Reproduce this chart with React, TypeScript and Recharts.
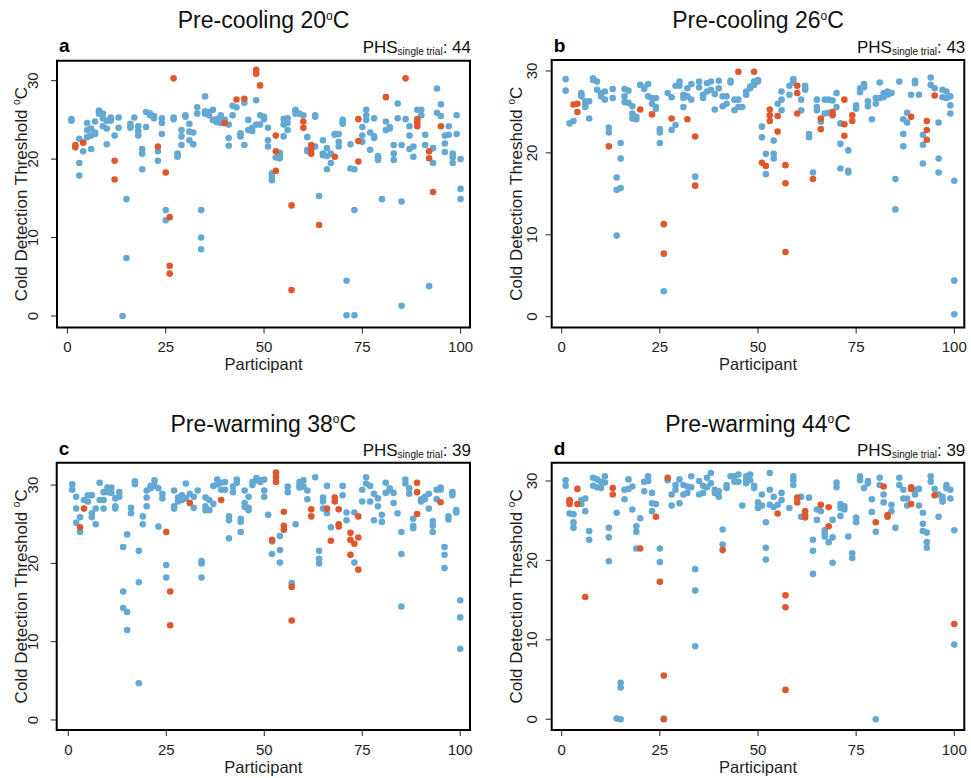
import React from 'react';
import { ScatterChart, Scatter, XAxis, YAxis, ReferenceArea } from 'recharts';

type Pt = [number, number];

const xTicks = [0, 25, 50, 75, 100];
const yTicks = [0, 10, 20, 30];
const panelLetters = ['a', 'b', 'c', 'd'];
const panelTitles = ['Pre-cooling 20', 'Pre-cooling 26', 'Pre-warming 38', 'Pre-warming 44'];
const phsCounts = [44, 43, 39, 39];

// Panel a: Pre-cooling 20°C  [participant, threshold]
const coolA_blue: Pt[] = [
  [1,25.1],[1,24.9],[3,22.6],[3,19.5],[3,17.9],[4,21.0],[5,22.8],[5,23.7],[5,24.6],[6,23.0],[6,21.3],[6,23.9],
  [7,24.8],[7,23.4],[7,23.2],[8,26.2],[8,25.8],[9,25.8],[9,25.2],[9,24.2],[10,21.9],[10,24.9],[10,23.9],
  [11,25.3],[11,25.1],[11,24.9],[12,23.0],[13,25.3],[13,24.0],[14,0.0],[15,14.9],[15,7.4],[16,24.5],[16,24.2],[16,24.0],
  [17,25.3],[18,24.2],[18,23.6],[18,23.0],[19,21.3],[19,20.7],[19,18.7],[20,24.1],[20,26.0],[21,25.8],[21,25.6],
  [22,25.5],[22,25.2],[23,21.0],[23,19.8],[24,25.2],[24,24.6],[24,23.2],[25,13.5],[25,12.2],[27,25.3],[27,25.1],
  [28,20.7],[28,20.5],[28,20.3],[29,23.7],[29,22.9],[29,21.8],[30,25.6],[30,25.4],[31,24.5],[31,23.5],[31,22.4],
  [32,23.4],[32,21.9],[33,26.6],[33,25.8],[34,13.5],[34,10.0],[34,8.5],[35,28.0],[35,26.1],[35,25.8],
  [36,26.0],[36,25.8],[36,25.6],[37,25.0],[37,26.3],[38,25.1],[38,24.7],[39,25.6],[39,25.0],[39,24.6],[40,25.0],
  [41,24.4],[41,22.7],[41,21.7],[42,25.6],[42,26.8],[43,26.6],[44,23.3],[44,23.1],[44,22.9],[45,27.2],[45,21.8],
  [46,25.0],[46,23.7],[47,24.0],[47,23.6],[48,27.5],[48,24.4],[49,25.6],[49,24.4],[50,25.4],[50,25.1],
  [51,24.0],[51,22.4],[51,21.6],[52,18.2],[52,17.8],[52,17.3],[53,20.2],[54,20.8],[54,20.4],[54,20.1],
  [55,22.9],[55,24.4],[55,25.1],[56,25.2],[56,24.6],[56,23.7],[58,26.3],[58,26.1],[58,25.8],[59,25.8],[60,25.6],
  [61,22.8],[61,21.2],[61,21.0],[63,25.6],[63,25.4],[63,21.6],[64,15.3],[65,22.4],[65,20.7],[65,20.5],
  [66,21.4],[66,20.4],[66,18.7],[67,20.7],[67,19.5],[68,23.2],[68,23.1],[69,23.2],[69,22.2],[69,21.6],
  [70,25.0],[70,24.7],[70,24.5],[71,4.5],[71,0.1],[72,21.9],[72,18.8],[73,18.7],[73,13.5],[73,0.1],
  [75,24.1],[75,23.0],[75,22.2],[76,26.3],[76,25.6],[76,25.0],[77,23.4],[77,21.2],[78,25.2],[78,22.9],[78,22.7],
  [79,20.4],[79,20.2],[79,19.9],[80,14.9],[81,24.8],[81,23.7],[82,24.1],[82,23.9],[83,21.8],[83,20.7],[83,19.9],
  [84,27.1],[84,25.2],[85,14.6],[85,1.3],[85,21.8],[86,25.1],[87,24.2],[87,23.0],[87,21.3],[88,21.6],[88,20.3],
  [89,26.3],[90,26.3],[90,25.6],[91,23.1],[91,21.8],[92,3.8],[93,19.5],[93,21.4],[94,29.0],[94,25.9],
  [95,27.0],[95,25.5],[96,23.0],[96,22.0],[96,20.9],[97,24.2],[97,23.1],[98,20.7],[98,20.2],[98,19.5],
  [99,25.6],[99,23.2],[100,20.0],[100,16.2],[100,14.9],
];
const coolA_red: Pt[] = [
  [2,21.8],[2,21.5],[4,22.1],[12,19.8],[12,17.4],[23,21.6],[25,18.3],[26,12.6],[26,6.4],[26,5.4],[27,30.3],
  [40,24.6],[43,27.6],[45,27.7],[48,31.4],[48,30.9],[49,29.4],[53,23.0],[53,21.0],[53,18.5],[57,14.1],[57,3.3],
  [60,24.8],[60,24.0],[62,21.8],[62,21.2],[62,20.7],[64,11.6],[68,20.3],[74,25.1],[74,22.3],[74,19.7],
  [81,27.9],[86,30.3],[89,25.1],[89,24.7],[89,24.2],[92,21.0],[92,20.1],[93,15.8],[95,24.2],
];

// Panel b: Pre-cooling 26°C
const coolB_blue: Pt[] = [
  [1,29.0],[1,27.6],[2,23.6],[3,23.9],[5,27.3],[5,27.1],[5,26.9],[6,26.3],[6,25.8],[6,25.6],[7,26.3],[7,24.2],
  [8,29.1],[8,28.9],[9,28.7],[9,27.7],[10,27.3],[10,26.9],[11,27.5],[11,26.5],[12,23.1],[12,22.5],[13,27.8],[13,26.7],
  [14,17.0],[14,15.5],[14,9.9],[15,21.2],[15,19.3],[15,15.7],[16,27.8],[16,26.9],[16,26.2],[17,27.6],[17,26.1],
  [18,25.7],[18,24.8],[18,24.2],[19,24.4],[19,24.1],[20,28.3],[21,28.0],[21,27.8],[22,28.4],[22,26.9],
  [23,26.7],[23,26.0],[24,26.7],[24,25.6],[24,25.4],[25,22.9],[25,22.5],[25,21.2],[26,3.1],[27,27.3],
  [28,26.8],[28,22.8],[29,28.2],[29,23.4],[30,28.7],[30,28.2],[31,27.1],[31,26.7],[31,25.6],[32,27.9],[32,26.9],
  [33,28.4],[33,26.5],[34,17.1],[35,28.7],[35,28.0],[36,27.1],[36,26.7],[37,28.5],[37,27.5],[38,28.7],[38,27.7],
  [39,25.3],[39,27.2],[40,28.8],[40,27.9],[41,25.7],[41,26.9],[42,26.0],[42,26.9],[43,28.8],[43,28.6],
  [44,25.2],[44,26.5],[45,26.5],[45,25.6],[46,25.6],[47,27.5],[47,27.1],[48,28.1],[48,27.9],[49,28.7],[49,28.3],
  [50,28.9],[50,28.7],[51,23.2],[51,21.9],[52,19.9],[52,17.4],[54,21.5],[54,19.9],[54,19.3],[55,26.0],
  [56,27.5],[56,26.5],[56,25.2],[58,28.2],[58,27.1],[59,29.0],[59,28.6],[61,26.5],[61,25.2],
  [62,28.2],[62,27.9],[62,27.7],[63,22.3],[63,21.9],[64,17.6],[65,26.5],[65,25.6],[65,25.2],[66,23.8],
  [67,26.5],[67,24.8],[68,26.5],[68,24.9],[69,26.4],[70,27.3],[70,25.6],[71,23.6],[71,21.1],[71,18.1],
  [73,20.3],[73,17.8],[73,17.6],[75,25.8],[75,25.4],[76,27.9],[76,27.4],[77,28.4],[77,28.0],[78,26.3],[78,25.7],
  [79,24.1],[80,26.7],[80,26.0],[81,28.6],[81,26.7],[82,27.3],[82,26.8],[83,27.5],[83,27.1],[84,27.3],
  [85,16.8],[85,13.1],[86,28.7],[87,24.1],[87,22.3],[87,20.8],[88,24.9],[88,23.7],[89,27.1],[90,28.8],[90,28.5],
  [91,27.1],[92,22.2],[92,21.0],[92,18.7],[94,29.2],[94,28.3],[95,27.9],[96,23.7],[96,19.3],[96,17.6],
  [97,27.7],[97,26.8],[98,27.5],[98,26.7],[99,26.9],[99,25.8],[99,24.8],[100,16.6],[100,4.4],[100,0.3],
];
const coolB_red: Pt[] = [
  [3,25.9],[4,26.0],[4,25.0],[12,20.8],[20,25.3],[23,24.7],[26,11.3],[26,7.7],[28,24.2],[32,24.1],[34,22.0],[34,16.0],
  [45,29.9],[49,29.9],[51,18.8],[52,18.4],[53,25.3],[53,24.6],[53,23.9],[55,24.5],[55,22.6],[57,18.5],[57,16.3],[57,7.9],
  [60,28.2],[60,27.3],[60,24.8],[64,16.8],[66,24.2],[66,22.9],[69,25.0],[69,24.6],[72,26.5],[72,23.5],[72,22.1],
  [74,24.6],[74,23.9],[89,24.4],[93,23.9],[93,22.8],[93,21.6],[95,27.0],
];

// Panel c: Pre-warming 38°C
const warmC_blue: Pt[] = [
  [1,30.1],[1,29.4],[2,28.5],[2,27.0],[2,25.2],[3,25.9],[3,24.0],[4,28.1],[5,28.7],[5,27.9],[6,26.4],[6,25.9],[6,28.7],
  [7,27.0],[7,25.0],[8,30.3],[8,28.1],[9,29.1],[9,28.1],[9,27.0],[10,29.7],[10,29.1],[11,29.7],[11,29.0],
  [12,28.3],[12,27.3],[12,27.0],[13,29.1],[13,28.5],[14,22.1],[14,16.4],[14,14.3],[15,23.7],[15,13.8],[15,11.5],
  [16,27.1],[16,26.4],[17,30.5],[17,30.1],[18,21.6],[18,17.6],[18,4.7],[19,26.0],[19,25.0],[20,29.3],[20,28.4],[20,27.3],
  [21,29.9],[21,29.6],[22,30.6],[22,29.9],[23,29.6],[23,24.7],[24,28.9],[24,28.3],[25,19.8],[25,18.2],
  [27,29.3],[27,27.3],[27,27.0],[28,28.4],[28,27.9],[29,28.7],[29,28.1],[30,30.2],[30,28.3],[31,28.9],
  [32,28.5],[32,27.1],[33,29.3],[34,20.3],[34,20.0],[34,18.2],[35,28.4],[35,27.3],[35,26.8],[36,28.1],[36,26.8],
  [37,29.9],[37,27.6],[38,30.7],[38,30.1],[39,30.3],[39,29.4],[40,30.4],[40,29.4],[41,26.0],[41,25.5],[41,23.2],
  [42,29.8],[42,29.1],[43,30.7],[43,30.3],[44,25.7],[44,25.3],[44,24.0],[45,29.3],[45,27.7],[45,27.2],
  [46,28.5],[46,27.1],[46,26.8],[47,30.4],[47,30.0],[48,30.9],[48,30.6],[49,30.6],[49,30.4],[50,30.7],[50,29.3],[50,28.5],
  [51,26.2],[52,22.8],[52,21.2],[54,23.5],[54,21.7],[54,20.1],[56,29.8],[56,29.1],[57,17.5],[58,25.0],
  [59,30.4],[59,30.0],[59,29.7],[60,30.6],[60,29.8],[61,29.3],[61,28.2],[63,31.0],[64,21.6],[64,20.6],[64,20.0],
  [65,28.4],[65,27.9],[65,27.0],[66,29.9],[66,26.4],[67,24.6],[70,29.9],[70,28.7],[71,26.5],[71,25.5],
  [73,26.5],[73,20.1],[75,29.4],[75,27.9],[76,31.0],[76,30.2],[77,29.9],[77,27.9],[78,28.9],[78,25.5],
  [79,28.3],[79,27.3],[80,26.2],[80,25.3],[81,30.3],[81,29.0],[82,29.6],[82,29.3],[83,29.0],[83,27.7],[84,26.4],
  [85,24.0],[85,21.2],[85,14.5],[86,30.7],[86,30.2],[87,29.6],[87,28.9],[88,25.7],[88,24.8],[88,24.5],
  [90,28.2],[90,27.9],[91,28.5],[91,28.2],[92,27.0],[92,28.9],[93,25.4],[93,24.8],[93,24.0],[94,29.4],[94,28.2],
  [95,29.7],[95,29.4],[96,22.1],[96,21.1],[96,19.4],[97,26.0],[97,25.6],[98,29.1],[98,28.7],[99,26.8],[99,26.5],
  [100,15.3],[100,13.1],[100,9.1],
];
const warmC_red: Pt[] = [
  [3,24.6],[4,27.0],[25,24.0],[26,16.4],[26,12.1],[31,27.7],[39,28.1],[52,23.0],[53,31.6],[53,31.0],[53,30.4],
  [55,26.6],[55,24.8],[55,24.3],[57,17.0],[57,12.7],[62,26.9],[62,26.0],[66,27.0],[67,22.9],[68,28.4],[68,27.9],
  [69,26.9],[69,25.0],[69,24.7],[72,23.9],[72,23.0],[72,21.1],[73,22.5],[74,26.0],[74,23.3],[74,19.2],
  [89,30.3],[89,29.1],[89,26.3],[95,27.8],
];

// Panel d: Pre-warming 44°C
const warmD_blue: Pt[] = [
  [1,30.1],[1,29.4],[2,25.9],[3,25.8],[3,24.8],[3,24.1],[5,27.6],[5,27.1],[6,27.8],[6,26.2],[7,23.7],[7,22.6],
  [8,30.4],[8,29.4],[9,30.2],[9,29.2],[10,29.9],[10,29.1],[11,30.6],[11,29.8],[12,24.1],[12,22.9],[12,19.9],
  [14,0.1],[14,26.0],[15,4.6],[15,4.0],[15,0.0],[16,28.9],[16,27.7],[17,30.2],[17,29.0],[18,29.3],[18,26.4],
  [19,24.3],[19,23.6],[19,21.5],[20,25.3],[21,29.9],[21,28.7],[22,30.6],[22,30.0],[23,28.5],[23,27.2],[23,26.2],
  [24,27.1],[25,21.5],[25,19.8],[26,0.1],[27,30.1],[28,28.3],[28,26.9],[29,29.5],[29,28.9],[30,30.2],[30,27.2],
  [31,29.5],[31,28.3],[32,29.3],[32,28.5],[33,30.6],[33,29.2],[34,18.9],[34,16.2],[34,9.2],[35,30.0],[35,28.3],
  [36,29.4],[36,28.5],[37,30.4],[37,29.2],[38,31.0],[38,29.7],[39,28.9],[39,28.5],[40,28.7],[40,28.0],
  [41,23.9],[41,22.0],[42,29.5],[42,29.1],[43,30.6],[44,30.6],[44,29.9],[45,30.8],[45,29.9],[46,26.9],
  [47,30.6],[47,30.1],[47,29.7],[48,30.8],[48,30.1],[49,29.4],[49,29.1],[50,27.3],[50,26.6],[51,28.3],[51,26.9],
  [52,24.8],[52,21.6],[52,20.1],[53,31.0],[53,28.9],[53,27.0],[54,28.0],[54,26.7],[55,27.0],[56,28.5],[56,27.6],
  [58,26.6],[59,30.6],[59,30.1],[59,29.5],[61,28.0],[61,25.5],[63,27.9],[64,22.6],[64,21.2],[64,18.3],
  [65,26.4],[65,25.1],[66,26.2],[67,23.8],[67,23.4],[67,23.0],[68,22.3],[69,25.1],[69,22.9],[69,19.7],
  [70,29.8],[70,29.2],[71,27.1],[71,26.6],[71,25.6],[72,26.8],[72,26.4],[73,23.0],[74,20.9],[74,20.3],
  [75,25.4],[75,24.8],[76,30.6],[76,30.1],[77,29.1],[78,30.0],[78,29.7],[79,27.7],[79,26.1],[80,23.6],[80,0.0],
  [81,30.4],[81,29.5],[82,28.3],[82,27.3],[84,27.0],[84,26.2],[85,24.1],[86,30.4],[86,29.5],[87,28.9],[87,27.8],
  [88,27.8],[88,26.9],[90,28.9],[90,28.3],[91,29.0],[91,26.9],[92,26.0],[92,24.6],[92,23.7],[93,23.5],[93,22.3],[93,21.6],
  [94,30.6],[94,29.9],[95,29.0],[96,28.3],[96,25.5],[97,28.0],[97,27.7],[97,27.4],[98,29.5],[98,29.1],
  [99,28.9],[99,27.8],[100,23.8],[100,9.4],
];
const warmD_red: Pt[] = [
  [2,27.6],[2,27.4],[2,27.1],[4,29.0],[4,27.1],[6,15.4],[13,29.1],[13,28.3],[20,21.5],[24,25.5],[25,17.3],
  [26,5.5],[26,0.0],[27,30.4],[41,21.3],[55,25.9],[57,15.6],[57,14.1],[57,3.7],[60,27.9],[60,27.3],
  [62,26.2],[62,25.7],[62,25.4],[66,27.0],[68,26.7],[68,24.3],[80,24.8],[82,29.3],[83,25.7],[83,25.5],
  [89,29.2],[89,29.0],[89,27.1],[95,28.2],[100,12.0],
];

const blueSets = [coolA_blue, coolB_blue, warmC_blue, warmD_blue];
const redSets = [coolA_red, coolB_red, warmC_red, warmD_red];

const BLUE = '#64A8D4';
const RED = '#E0572B';
const TEXT = '#1e1e1e';
const FONT = '"Liberation Sans", Arial, Helvetica, sans-serif';

// layout: chart box on page and plot frame (L,T,R,B)
const layouts = [
  { left: 0, top: 0, w: 485, h: 389, L: 57, T: 60.7, R: 470, B: 327.5, xDom: [-2.67, 102.4], yDom: [-1.47, 32.55], yTickOff: 24 },
  { left: 490, top: 0, w: 481, h: 389, L: 551.7, T: 60, R: 964.3, B: 327.5, xDom: [-2.55, 102.55], yDom: [-1.32, 31.34], yTickOff: 19.5 },
  { left: 0, top: 389, w: 485, h: 389, L: 56.7, T: 462.7, R: 470, B: 730, xDom: [-2.96, 102.5], yDom: [-1.28, 32.86], yTickOff: 24 },
  { left: 490, top: 389, w: 481, h: 389, L: 551.7, T: 462.7, R: 964.3, B: 730, xDom: [-2.55, 102.55], yDom: [-1.35, 32.3], yTickOff: 20 },
];

const toObj = (arr: Pt[]) => arr.map(([x, y]) => ({ x, y }));

const XTick = (props: any) => {
  const { x, y, payload } = props;
  return (
    <text x={x} y={y} dy={18.5} textAnchor="middle" fontSize={15} fill={TEXT} fontFamily={FONT}>
      {payload.value}
    </text>
  );
};

const makeYTick = (off: number) => (props: any) => {
  const { x, y, payload } = props;
  const cx = x - (off - 6);
  return (
    <text x={cx} y={y} dy="0.35em" transform={`rotate(-90 ${cx} ${y})`} textAnchor="middle" fontSize={15} fill={TEXT} fontFamily={FONT}>
      {payload.value}
    </text>
  );
};

const dot = (color: string) => (p: any) => <circle cx={p.cx} cy={p.cy} r={3.3} fill={color} />;

function Panel({ i }: { i: number }) {
  const lay = layouts[i];
  const margin = { top: lay.T - lay.top, right: lay.left + lay.w - lay.R, bottom: 0, left: 0 };
  return (
    <div style={{ position: 'absolute', left: lay.left, top: lay.top, width: lay.w, height: lay.h }}>
      <ScatterChart width={lay.w} height={lay.h} margin={margin}>
        <XAxis
          type="number"
          dataKey="x"
          domain={lay.xDom}
          ticks={xTicks}
          allowDataOverflow
          axisLine={false}
          tickLine={{ stroke: '#222', strokeWidth: 1 }}
          tickSize={6}
          tickMargin={0}
          height={lay.top + lay.h - lay.B}
          tick={XTick}
          interval={0}
        />
        <YAxis
          type="number"
          dataKey="y"
          domain={lay.yDom}
          ticks={yTicks}
          allowDataOverflow
          axisLine={false}
          tickLine={{ stroke: '#222', strokeWidth: 1 }}
          tickSize={6}
          tickMargin={0}
          width={lay.L - lay.left}
          tick={makeYTick(lay.yTickOff)}
          interval={0}
        />
        <Scatter data={toObj(blueSets[i])} isAnimationActive={false} shape={dot(BLUE)} />
        <Scatter data={toObj(redSets[i])} isAnimationActive={false} shape={dot(RED)} />
        <ReferenceArea
          x1={lay.xDom[0]}
          x2={lay.xDom[1]}
          y1={lay.yDom[0]}
          y2={lay.yDom[1]}
          fill="none"
          fillOpacity={0}
          stroke="#000"
          strokeWidth={2}
          ifOverflow="visible"
        />
      </ScatterChart>
    </div>
  );
}

function Overlay() {
  return (
    <svg width={971} height={778} style={{ position: 'absolute', left: 0, top: 0, pointerEvents: 'none' }} fontFamily={FONT}>
      {layouts.map((lay, i) => {
        const cx = (lay.L + lay.R) / 2;
        const cy = (lay.T + lay.B) / 2;
        const titleY = lay.top === 0 ? 28.3 : 431.7;
        const headY = lay.top === 0 ? 53 : 455.5;
        const ylx = lay.L - 35.5;
        return (
          <g key={i}>
            <text x={cx} y={titleY} textAnchor="middle" fontSize={23} fill="#111">
              <tspan>{panelTitles[i]}</tspan>
              <tspan dy={-8.5} fontSize={12}>o</tspan>
              <tspan dy={8.5}>C</tspan>
            </text>
            <text x={lay.L + 2} y={headY - 1} fontSize={19} fontWeight="bold" fill="#000">
              {panelLetters[i]}
            </text>
            <text x={lay.R + 1} y={headY} textAnchor="end" fontSize={17} fill="#111">
              <tspan>PHS</tspan>
              <tspan dy={2} fontSize={10}>single trial</tspan>
              <tspan dy={-2}>{': ' + phsCounts[i]}</tspan>
            </text>
            <text x={cx} y={lay.B + 42.5} textAnchor="middle" fontSize={16.5} fill={TEXT}>
              Participant
            </text>
            <text x={ylx} y={cy} dy="0.35em" textAnchor="middle" fontSize={17} fill={TEXT} transform={`rotate(-90 ${ylx} ${cy})`}>
              <tspan>Cold Detection Threshold </tspan>
              <tspan dy={-7} fontSize={10}>o</tspan>
              <tspan dy={7}>C</tspan>
            </text>
          </g>
        );
      })}
    </svg>
  );
}

export default function App() {
  return (
    <div style={{ position: 'absolute', left: 0, top: 0, width: 971, height: 778, background: '#fff', fontFamily: FONT }}>
      {[0, 1, 2, 3].map((i) => (
        <Panel key={i} i={i} />
      ))}
      <Overlay />
    </div>
  );
}
